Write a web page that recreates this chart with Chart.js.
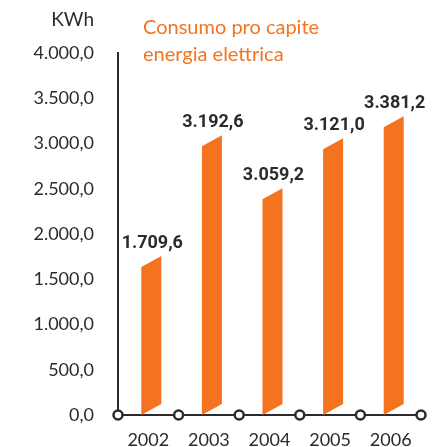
<!DOCTYPE html>
<html>
<head>
<meta charset="utf-8">
<script src="https://cdn.jsdelivr.net/npm/chart.js@4"></script>
<style>
  html, body { margin: 0; padding: 0; background: #fff; }
  #wrap { width: 433px; height: 447px; }
</style>
</head>
<body>
<div id="wrap"><canvas id="chart"></canvas></div>
<script>
// ── Consumo pro capite ────────────────────────────────────────────────────────
const years       = ['2002', '2003', '2004', '2005', '2006'];
const barHeights  = [1634, 2970, 2384, 2936, 3179];          // as drawn
const valueLabels = ['1.709,6', '3.192,6', '3.059,2', '3.121,0', '3.381,2'];
const yTickLabels = ['0,0', '500,0', '1.000,0', '1.500,0', '2.000,0',
                     '2.500,0', '3.000,0', '3.500,0', '4.000,0'];
const titleLines  = ['Consumo pro capite', 'energia elettrica'];
const unitLabel   = 'KWh';

const ORANGE = '#F37321';
const INK    = '#2b2b2b';
const FONT   = 'Lato, "Open Sans", sans-serif';
const SKEW   = 11;
const NUDGE  = 3;

const slantBars = {
  id: 'slantBars',
  afterDatasetsDraw(chart) {
    const ctx = chart.ctx;
    ctx.save();
    chart.getDatasetMeta(0).data.forEach((bar, i) => {
      const { x, y, base, width } = bar.getProps(['x', 'y', 'base', 'width'], true);
      const l = x + NUDGE - width / 2, r = x + NUDGE + width / 2;
      ctx.beginPath();
      ctx.moveTo(l, base);
      ctx.lineTo(l, y);
      ctx.lineTo(r, y - SKEW);
      ctx.lineTo(r, base - SKEW);
      ctx.closePath();
      ctx.fillStyle = ORANGE;
      ctx.fill();
      ctx.fillStyle = INK;
      ctx.font = 'bold 18px Roboto, sans-serif';
      ctx.textAlign = 'center';
      ctx.textBaseline = 'middle';
      ctx.fillText(valueLabels[i], x + NUDGE + 1, y - SKEW - 13);
    });
    ctx.restore();
  },
  afterDraw(chart) {
    const { ctx, scales: { x, y } } = chart;
    ctx.save();
    // hollow markers on the category boundaries
    for (let i = 0; i <= years.length; i++) {
      ctx.beginPath();
      ctx.arc(x.getPixelForValue(i - 0.5), y.bottom, 4.5, 0, Math.PI * 2);
      ctx.fillStyle = '#fff';
      ctx.fill();
      ctx.lineWidth = 2.5;
      ctx.strokeStyle = INK;
      ctx.stroke();
    }
    ctx.font = '19px ' + FONT;
    ctx.textBaseline = 'middle';
    ctx.fillStyle = INK;
    ctx.textAlign = 'right';
    ctx.fillText(unitLabel, 94, 20);
    ctx.fillStyle = ORANGE;
    ctx.textAlign = 'left';
    ctx.font = '20px ' + FONT;
    titleLines.forEach((t, i) => ctx.fillText(t, 143, 28 + i * 27));
    ctx.restore();
  }
};

const noPad = s => { s.paddingTop = s.paddingBottom = s.paddingLeft = s.paddingRight = 0; };

new Chart(document.getElementById('chart'), {
  type: 'bar',
  data: {
    labels: years,
    datasets: [{
      data: barHeights,
      backgroundColor: 'rgba(0,0,0,0)',
      barPercentage: 0.33,
      categoryPercentage: 1
    }]
  },
  options: {
    responsive: true, maintainAspectRatio: false, animation: false,
    layout: { padding: { top: 53, right: 12, left: 0, bottom: 0 } },
    plugins: { legend: { display: false }, tooltip: { enabled: false } },
    scales: {
      x: {
        grid: { display: false, drawTicks: false },
        border: { display: true, color: INK, width: 2 },
        ticks: { color: INK, padding: 14, font: { family: FONT, size: 18 } },
        afterFit: s => { s.height = 32; noPad(s); }
      },
      y: {
        min: 0, max: 4000,
        grid: { display: false, drawTicks: false },
        border: { display: true, color: INK, width: 2 },
        ticks: {
          stepSize: 500, color: INK, padding: 24,
          font: { family: FONT, size: 18 },
          callback: (v, i) => yTickLabels[i]
        },
        afterFit: s => { s.width = 118; noPad(s); }
      }
    }
  },
  plugins: [slantBars]
});
</script>
</body>
</html>
